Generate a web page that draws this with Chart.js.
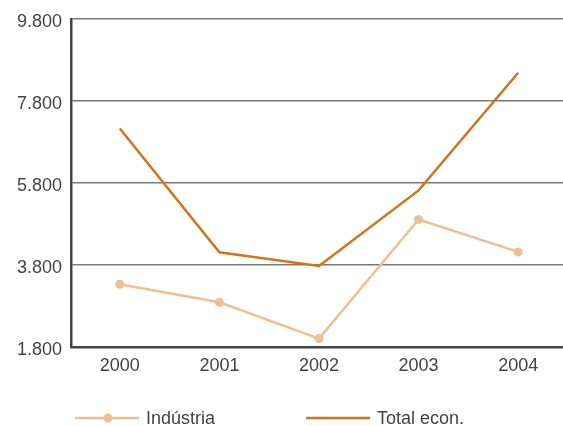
<!DOCTYPE html>
<html>
<head>
<meta charset="utf-8">
<script src="https://cdn.jsdelivr.net/npm/chart.js@4"></script>
<style>
  html, body { margin: 0; padding: 0; background: #fff; }
  #wrap { width: 563px; height: 426px; position: relative; }
</style>
</head>
<body>
<div id="wrap"><canvas id="chart" width="563" height="426"></canvas></div>
<script>
// chart data
const years = [2000, 2001, 2002, 2003, 2004];
const industria = [3330, 2890, 2005, 4910, 4120];
const totalEcon = [7130, 4110, 3775, 5620, 8490];
const yTicks = [1800, 3800, 5800, 7800, 9800];

const seriesNames = ['Indústria', 'Total econ.'];
const colInd = '#eebf92';
const colTot = '#d2731e';
const fontFam = '"Liberation Sans", Arial, sans-serif';

function fmt(v) {
    return String(v).replace(/\B(?=(\d{3})+(?!\d))/g, '.');
}

function toPoints(vals) {
    return years.map(function (y, i) { return { x: y, y: vals[i] }; });
}

// legend drawn under the plot, line + marker like the original
const bottomLegend = {
    id: 'bottomLegend',
    afterDraw: function (chart) {
        const c = chart.ctx;
        const y = 418;
        c.save();
        c.lineWidth = 2.5;
        c.strokeStyle = colInd;
        c.beginPath(); c.moveTo(75, y); c.lineTo(139, y); c.stroke();
        c.fillStyle = colInd;
        c.beginPath(); c.arc(108, y, 4.5, 0, Math.PI * 2); c.fill();
        c.strokeStyle = colTot;
        c.beginPath(); c.moveTo(306, y); c.lineTo(370, y); c.stroke();
        c.fillStyle = '#444';
        c.font = '18px ' + fontFam;
        c.textBaseline = 'middle';
        c.fillText(seriesNames[0], 146, y + 1);
        c.fillText(seriesNames[1], 377, y + 1);
        c.restore();
    }
};

new Chart(document.getElementById('chart'), {
    type: 'line',
    data: {
        datasets: [{
            label: seriesNames[0],
            data: toPoints(industria),
            borderColor: colInd,
            backgroundColor: colInd,
            borderWidth: 2.5,
            pointRadius: 4.5,
            pointBorderWidth: 0,
            tension: 0
        }, {
            label: seriesNames[1],
            data: toPoints(totalEcon),
            borderColor: colTot,
            backgroundColor: colTot,
            borderWidth: 2.5,
            pointRadius: 0,
            tension: 0
        }]
    },
    options: {
        responsive: false,
        animation: false,
        layout: { autoPadding: false, padding: { top: 19, right: 0, bottom: 0, left: 0 } },
        plugins: {
            legend: { display: false },
            tooltip: { enabled: false }
        },
        scales: {
            x: {
                type: 'linear',
                min: 1999.51,
                max: 2004.45,
                afterBuildTicks: function (s) { s.ticks = years.map(function (v) { return { value: v }; }); },
                afterFit: function (s) { s.height = 79; s.paddingRight = 0; s.paddingLeft = 0; },
                grid: { display: false, drawTicks: false },
                border: { color: '#444', width: 2.5 },
                ticks: {
                    padding: 8,
                    color: '#444',
                    font: { size: 18, family: fontFam },
                    callback: function (v) { return String(v); }
                }
            },
            y: {
                min: 1800,
                max: 9800,
                afterBuildTicks: function (s) { s.ticks = yTicks.map(function (v) { return { value: v }; }); },
                afterFit: function (s) { s.width = 71; s.paddingTop = 0; s.paddingBottom = 0; },
                grid: { color: '#7a7a7a', lineWidth: 1.5, drawTicks: false },
                border: { color: '#444', width: 2.5 },
                ticks: {
                    padding: 9,
                    labelOffset: 3,
                    color: '#444',
                    font: { size: 18, family: fontFam },
                    callback: function (v) { return fmt(v); }
                }
            }
        }
    },
    plugins: [bottomLegend]
});
</script>
</body>
</html>
